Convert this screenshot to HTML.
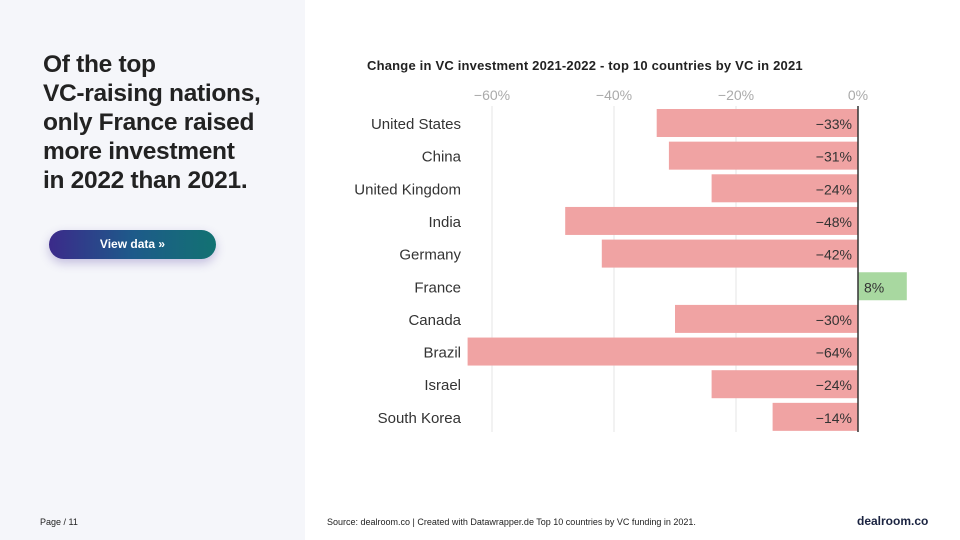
<!DOCTYPE html>
<html><head><meta charset="utf-8"><style>
body{margin:0;width:960px;height:540px;overflow:hidden;background:#fff;font-family:"Liberation Sans",sans-serif;position:relative}
#left{position:absolute;left:0;top:0;width:305px;height:540px;background:#f5f6fa}
h1{position:absolute;left:43px;top:50px;margin:0;font-size:24.5px;line-height:29px;color:#222;font-weight:bold;letter-spacing:-0.3px}
#btn{position:absolute;left:49px;top:230px;width:167px;height:29px;border-radius:15px;background:linear-gradient(90deg,#3b2a8a,#1e5a8a,#127272);color:#fff;font-size:12px;font-weight:bold;text-align:center;line-height:29px;box-shadow:0 4px 10px rgba(80,60,160,.3)}
.foot{position:absolute;font-size:9px;color:#222}
</style></head><body>
<div id="left"></div>
<h1>Of the top<br>VC-raising nations,<br>only France raised<br>more investment<br>in 2022 than 2021.</h1>
<div id="btn">View data »</div>
<div class="foot" style="left:40px;top:517px">Page / 11</div>
<div class="foot" style="left:327px;top:517px">Source: dealroom.co | Created with Datawrapper.de Top 10 countries by VC funding in 2021.</div>
<div class="foot" style="left:857px;top:514px;font-size:12px;font-weight:bold;color:#1a2340">dealroom.co</div>
<svg id="chart" width="960" height="540" style="position:absolute;left:0;top:0">
<text x="367" y="70" font-size="13" font-weight="bold" fill="#222" letter-spacing="0.2">Change in VC investment 2021-2022 - top 10 countries by VC in 2021</text>
</svg>
<script>
const categories=["United States","China","United Kingdom","India","Germany","France","Canada","Brazil","Israel","South Korea"];
const values=[-33,-31,-24,-48,-42,8,-30,-64,-24,-14];
const tickValues=[-60,-40,-20,0];
const tickLabels=["−60%","−40%","−20%","0%"];
const svg=document.getElementById('chart');const NS="http://www.w3.org/2000/svg";
const x=v=>858+v*6.1;const y=i=>123+i*32.65;
function mk(t,a){const e=document.createElementNS(NS,t);for(const k in a)e.setAttribute(k,a[k]);svg.appendChild(e);return e;}
tickValues.forEach((t,i)=>{
 if(t!==0){const g=mk('line',{x1:x(t),x2:x(t),y1:106,y2:432,stroke:'#e6e6e6','stroke-width':1});
 
 }
 const l=mk('text',{x:x(t),y:100,'text-anchor':'middle','font-size':14,fill:'#aaa'});l.textContent=tickLabels[i];
 
 
});
categories.forEach((c,i)=>{
 const v=values[i];const neg=v<0;
 const r=mk('rect',{x:Math.min(x(0),x(v)),y:y(i)-14,width:Math.abs(x(v)-x(0)),height:28,fill:neg?'#f0a3a3':'#a8d8a0'});
 
 
 const l=mk('text',{x:461,y:y(i)+6,'text-anchor':'end','font-size':15,fill:'#333'});l.textContent=c;
 
 
 const vl=mk('text',{x:neg?852:864,y:y(i)+6,'text-anchor':neg?'end':'start','font-size':14,fill:'#333'});vl.textContent=(neg?'−'+(-v):v)+'%';
 
 
});
const z=mk('line',{x1:x(0),x2:x(0),y1:106,y2:432,stroke:'#333','stroke-width':1.5});


</script>
</body></html>
